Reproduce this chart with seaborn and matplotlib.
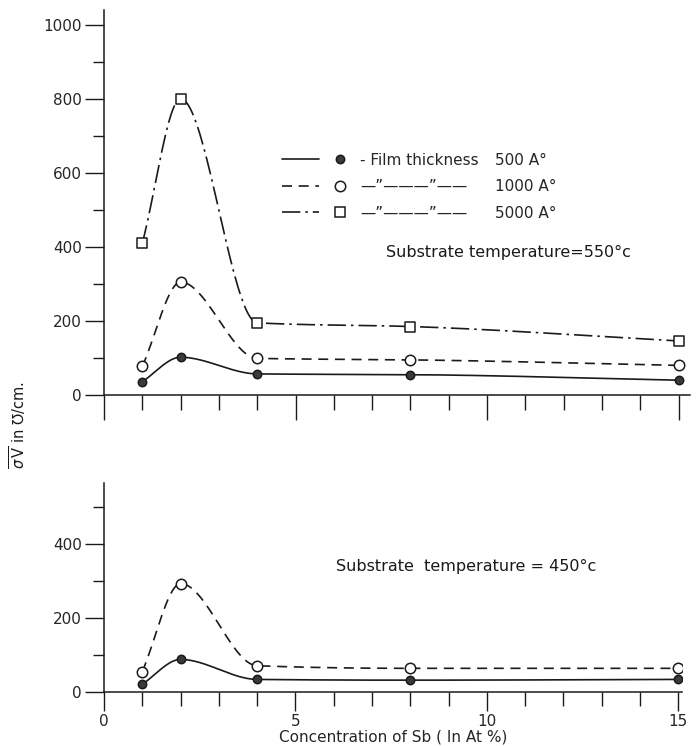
import numpy as np
import pandas as pd
import matplotlib.pyplot as plt
import seaborn as sns
from matplotlib.lines import Line2D
from matplotlib.legend_handler import HandlerTuple
from matplotlib.ticker import MultipleLocator

# Sb concentration (at %)
conc = [1, 2, 4, 8, 15]

# substrate temperature 550 C, conductivity in mho/cm
top_500 = [36, 102, 57, 55, 40]
top_1000 = [77, 305, 99, 95, 80]
top_5000 = [410, 800, 195, 185, 146]

# substrate temperature 450 C
bot_500 = [21, 88, 34, 32, 34]
bot_1000 = [55, 293, 71, 64, 64]

thickness = ["500", "1000", "5000"]


def smooth(x, y, n=300):
    # monotone cubic hermite through the measured points (hand drawn look)
    x = np.asarray(x, float)
    y = np.asarray(y, float)
    h = np.diff(x)
    d = np.diff(y) / h
    m = np.zeros_like(y)
    for k in range(1, len(x) - 1):
        if d[k - 1] * d[k] > 0:
            w1 = 2 * h[k] + h[k - 1]
            w2 = h[k] + 2 * h[k - 1]
            m[k] = (w1 + w2) / (w1 / d[k - 1] + w2 / d[k])
    m[0] = d[0]
    m[-1] = d[-1]
    xs = np.linspace(x[0], x[-1], n)
    i = np.clip(np.searchsorted(x, xs) - 1, 0, len(h) - 1)
    t = (xs - x[i]) / h[i]
    ys = ((2 * t**3 - 3 * t**2 + 1) * y[i] + (t**3 - 2 * t**2 + t) * h[i] * m[i]
          + (-2 * t**3 + 3 * t**2) * y[i + 1] + (t**3 - t**2) * h[i] * m[i + 1])
    return xs, ys


sns.set_style("ticks")
plt.rcParams["font.family"] = ["DejaVu Sans"]
plt.rcParams["font.size"] = 11

ink = "#1a1a1a"
styles = {
    "500": dict(ls="-", dashes=None, marker="o", fc="#3a3a3a", ms=6),
    "1000": dict(ls="--", dashes=(6, 4), marker="o", fc="white", ms=7.5),
    "5000": dict(ls="-.", dashes=(11, 3, 1.5, 3), marker="s", fc="white", ms=6.5),
}

fig = plt.figure(figsize=(6.99, 7.46), dpi=100)
ax1 = fig.add_axes([104 / 699, 1 - 395 / 746, 586 / 699, 385 / 746])
ax2 = fig.add_axes([104 / 699, 1 - 692 / 746, 578 / 699, 209 / 746])


def draw(ax, key, vals):
    st = styles[key]
    xs, ys = smooth(conc, vals)
    curve = pd.DataFrame({"x": xs, "y": ys})
    sns.lineplot(data=curve, x="x", y="y", ax=ax, color=ink, lw=1.2, sort=False)
    line = ax.lines[-1]
    if st["dashes"]:
        line.set_dashes(st["dashes"])
    pts = pd.DataFrame({"x": conc, "y": vals})
    sns.scatterplot(data=pts, x="x", y="y", ax=ax, marker=st["marker"], s=st["ms"] ** 2,
                    color=st["fc"], edgecolor=ink, linewidth=1.1, zorder=5)


draw(ax1, "500", top_500)
draw(ax1, "1000", top_1000)
draw(ax1, "5000", top_5000)
draw(ax2, "500", bot_500)
draw(ax2, "1000", bot_1000)

for ax in (ax1, ax2):
    sns.despine(ax=ax)
    ax.set_xlabel("")
    ax.set_ylabel("")
    ax.xaxis.set_major_locator(MultipleLocator(5))
    ax.xaxis.set_minor_locator(MultipleLocator(1))
    ax.yaxis.set_major_locator(MultipleLocator(200))
    ax.yaxis.set_minor_locator(MultipleLocator(100))
    ax.tick_params(which="major", length=14, width=1.0, color=ink, labelsize=11, pad=2)
    ax.tick_params(which="minor", length=8, width=1.0, color=ink)
    for s in ("left", "bottom"):
        ax.spines[s].set_color(ink)
        ax.spines[s].set_linewidth(1.1)

ax1.set_xlim(0, 15.3)
ax1.set_ylim(0, 1040)
ax1.set_xticklabels([])
ax1.tick_params(axis="x", which="major", length=18)
ax1.tick_params(axis="x", which="minor", length=11)

ax2.set_xlim(0, 15.1)
ax2.set_ylim(0, 565)
ax2.set_yticks([0, 200, 400])
ax2.tick_params(axis="x", which="major", length=14)
ax2.tick_params(axis="x", which="minor", length=10)
ax2.set_xlabel("Concentration of Sb ( In At %)", fontsize=11, labelpad=0)

ax1.text(7.35, 385, "Substrate temperature=550°c", fontsize=11.5, va="center", color=ink)
ax2.text(6.05, 338, "Substrate  temperature = 450°c", fontsize=11.5, va="center", color=ink)

# legend: line sample + marker, then the label and the thickness value
handles = []
for key in thickness:
    st = styles[key]
    ln = Line2D([], [], color=ink, lw=1.2, ls=st["ls"])
    if st["dashes"]:
        ln.set_dashes(st["dashes"])
    mk = Line2D([], [], color=ink, ls="", marker=st["marker"], ms=st["ms"],
                mfc=st["fc"], mec=ink, mew=1.1)
    handles.append((ln, mk))
blank = Line2D([], [], ls="", marker="")
labels = ["- Film thickness", "—\u201d———\u201d——", "—\u201d———\u201d——"]
values = [k + " A°" for k in thickness]
ax1.legend(handles + [blank] * 3, labels + values, ncol=2, frameon=False,
           handler_map={tuple: HandlerTuple(ndivide=2, pad=0.2)},
           handlelength=5.0, handletextpad=0.1, columnspacing=-4.05,
           labelspacing=0.75, fontsize=11, loc="upper left",
           bbox_to_anchor=(0.281, 0.665))

fig.text(18 / 699, 1 - 425 / 746, r"$\overline{\sigma\,\mathrm{V}}$ in ℧/cm.", rotation=90,
         ha="center", va="center", fontsize=10.5, color=ink)

fig.savefig("out.png", dpi=100, facecolor="white")
